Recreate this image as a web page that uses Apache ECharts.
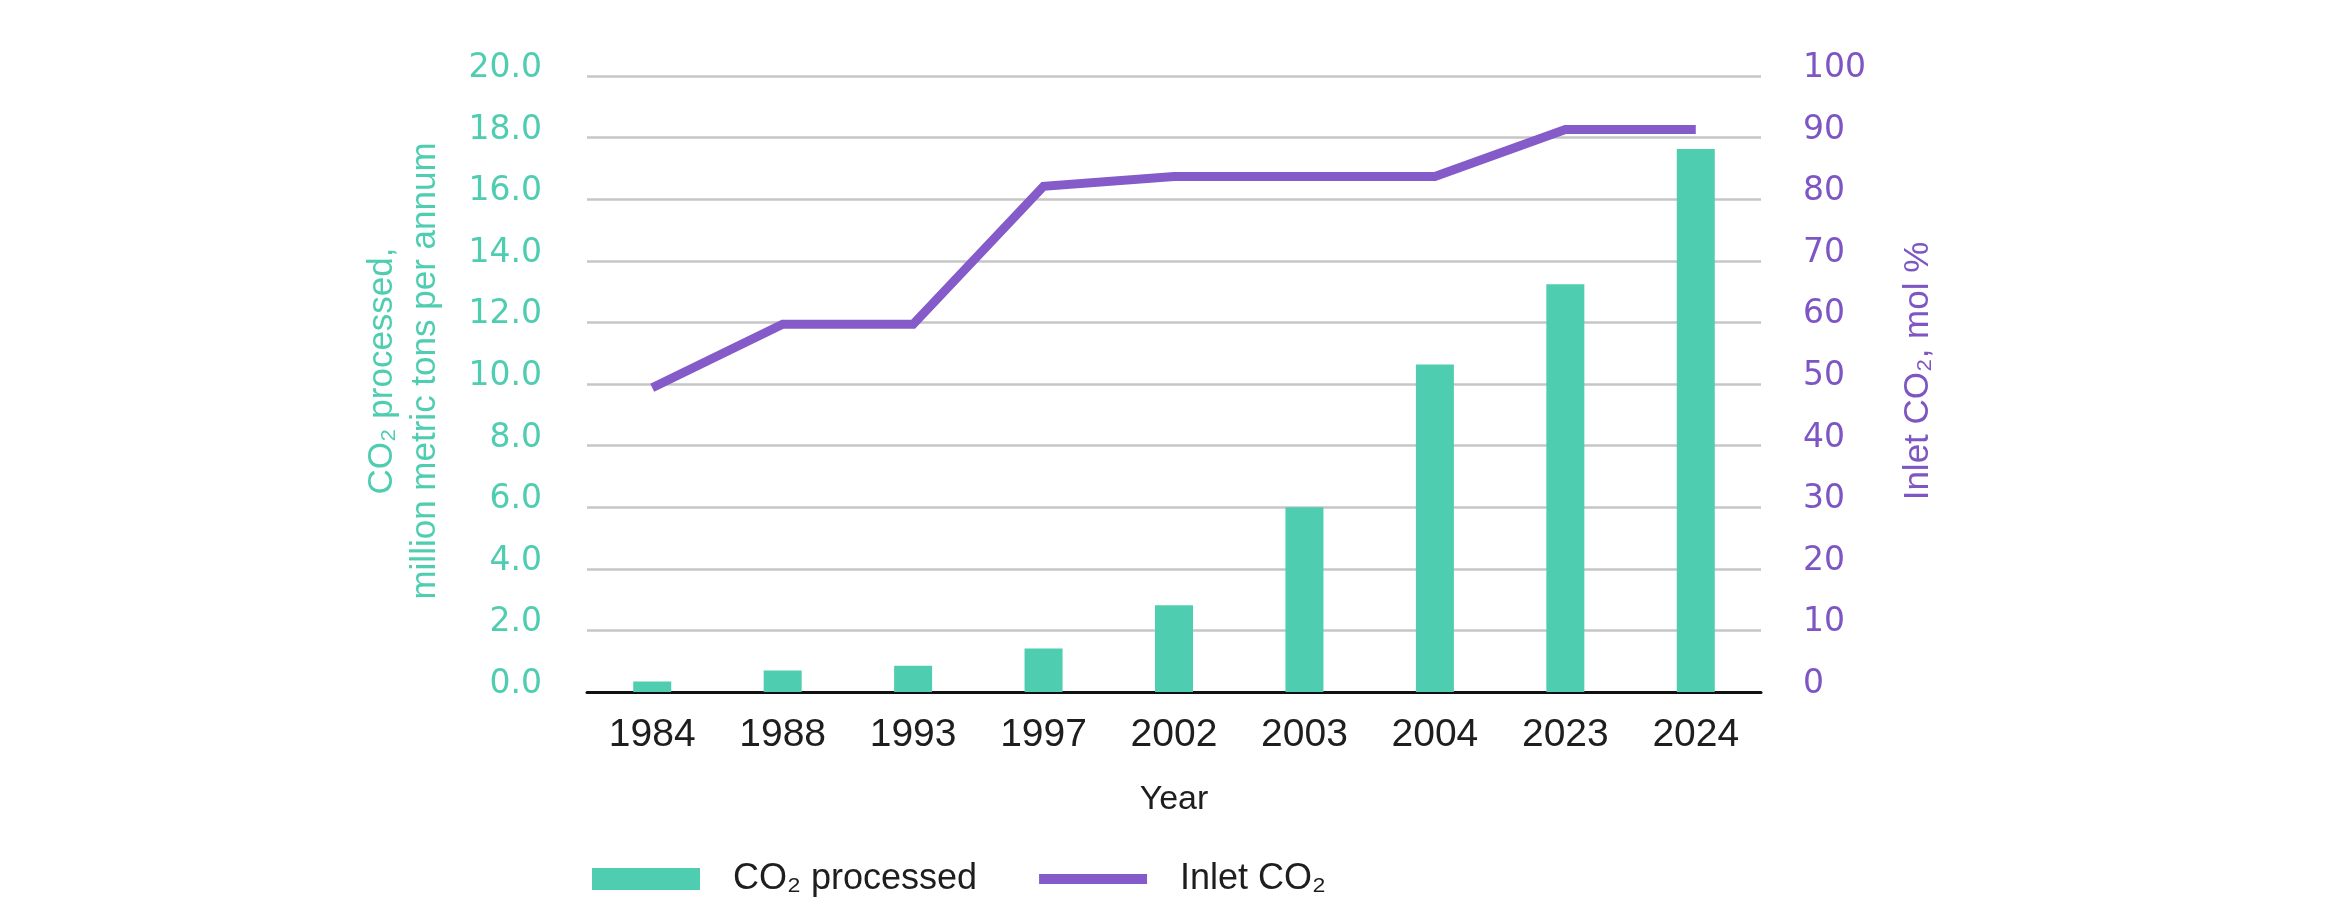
<!DOCTYPE html>
<html>
<head>
<meta charset="utf-8">
<script src="https://cdn.jsdelivr.net/npm/echarts@6/dist/echarts.min.js"></script>
<style>
  html, body { margin: 0; padding: 0; background: #fff; }
  #echart { width: 2336px; height: 923px; }
</style>
</head>
<body>
<div id="echart"></div>
<script>
const years = ["1984", "1988", "1993", "1997", "2002", "2003", "2004", "2023", "2024"];
// million metric tons per annum
const co2Processed = [0.34, 0.7, 0.85, 1.41, 2.82, 6.0, 10.63, 13.24, 17.63];
// mol %
const inletCO2 = [49.4, 59.7, 59.7, 82.1, 83.7, 83.7, 83.7, 91.3, 91.3];

const leftAxisRange = [0, 20, 2];
const rightAxisRange = [0, 100, 10];

const TEAL = "#4fcdb1";
const PURPLE = "#845bc8";
const TICK_FONT = "DejaVu Sans";
const TEXT_FONT = "Liberation Sans";

const chart = echarts.init(document.getElementById("echart"));

function getOptions() {
  return {
    animation: false,
    textStyle: { fontFamily: TEXT_FONT },
    grid: { left: 587, right: 575, top: 76, bottom: 231 },
    legend: {
      left: 587,
      top: 856,
      itemWidth: 108,
      itemHeight: 22,
      itemGap: 62,
      textStyle: {
        fontSize: 36,
        color: "#1e1e1e",
        fontFamily: TEXT_FONT,
        padding: [0, 0, 0, 28],
      },
      data: [
        { name: "CO₂ processed", icon: "rect" },
        { name: "Inlet CO₂", icon: "path://M0,0 H108 V10 H0 Z" },
      ],
    },
    xAxis: {
      type: "category",
      data: years,
      name: "Year",
      nameLocation: "middle",
      nameGap: 91,
      nameTextStyle: { fontSize: 34, color: "#1e1e1e", fontFamily: TEXT_FONT },
      axisLine: { lineStyle: { color: "#111", width: 3 } },
      axisTick: { show: false },
      axisLabel: { fontSize: 39, color: "#1e1e1e", margin: 24, fontFamily: TEXT_FONT },
    },
    yAxis: [
      {
        type: "value",
        min: leftAxisRange[0],
        max: leftAxisRange[1],
        interval: leftAxisRange[2],
        name: "CO₂ processed,\nmillion metric tons per annum",
        nameLocation: "middle",
        nameRotate: 90,
        nameGap: 140,
        nameTextStyle: {
          fontSize: 35,
          lineHeight: 43,
          color: TEAL,
          fontFamily: TEXT_FONT,
          padding: [0, 0, 0, 26],
        },
        axisLine: { show: false },
        axisTick: { show: false },
        splitLine: { lineStyle: { color: "#c6c6c6", width: 2.5 } },
        axisLabel: {
          fontSize: 33,
          color: TEAL,
          fontFamily: TICK_FONT,
          margin: 45,
          verticalAlign: "bottom",
          lineHeight: 15,
          formatter: (v) => v.toFixed(1),
        },
      },
      {
        type: "value",
        min: rightAxisRange[0],
        max: rightAxisRange[1],
        interval: rightAxisRange[2],
        name: "Inlet CO₂, mol %",
        nameLocation: "middle",
        nameRotate: 90,
        nameGap: 136,
        nameTextStyle: {
          fontSize: 35,
          lineHeight: 43,
          color: "#7d56c4",
          fontFamily: TEXT_FONT,
          padding: [0, 0, 0, 26],
        },
        axisLine: { show: false },
        axisTick: { show: false },
        splitLine: { show: false },
        axisLabel: {
          fontSize: 33,
          color: "#7d56c4",
          fontFamily: TICK_FONT,
          margin: 42,
          verticalAlign: "bottom",
          lineHeight: 15,
        },
      },
    ],
    series: [
      {
        name: "CO₂ processed",
        type: "bar",
        data: co2Processed,
        barWidth: 38,
        itemStyle: { color: TEAL },
      },
      {
        name: "Inlet CO₂",
        type: "line",
        yAxisIndex: 1,
        data: inletCO2,
        symbol: "none",
        itemStyle: { color: PURPLE },
        lineStyle: { color: PURPLE, width: 9, join: "miter" },
      },
    ],
  };
}

chart.setOption(getOptions());
window.addEventListener("resize", () => chart.resize());
</script>
</body>
</html>
